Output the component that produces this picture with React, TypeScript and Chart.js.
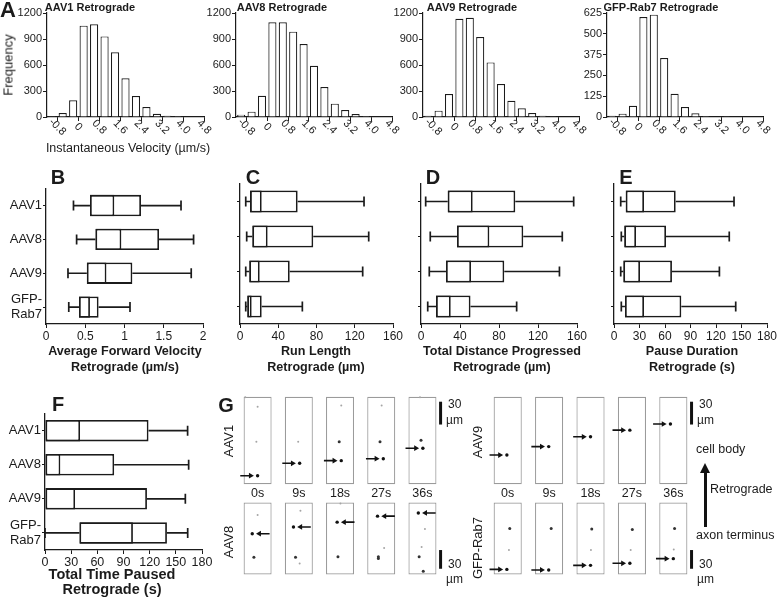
import React, { useEffect, useRef } from "react";
import { Chart, registerables } from "chart.js";

Chart.register(...registerables);

const FONT = "'Liberation Sans', Arial, Helvetica, sans-serif";
const INK = "#1b1b1b";

// ---------------- Panel A: instantaneous velocity histograms ----------------
const velocityBins = [-1.0, -0.6, -0.2, 0.2, 0.6, 1.0, 1.4, 1.8, 2.2, 2.6, 3.0, 3.4, 3.8, 4.2];
const velocityTicks = [-0.8, 0, 0.8, 1.6, 2.4, 3.2, 4.0, 4.8];
const aav1Freq = [10, 46, 192, 1054, 1069, 930, 746, 446, 242, 115, 38, 15, 12, 4];
const aav8Freq = [27, 62, 246, 1092, 1092, 985, 842, 592, 346, 154, 81, 35, 12, 4];
const aav9Freq = [15, 73, 265, 1134, 1146, 923, 630, 381, 188, 100, 46, 15, 10, 8];
const rab7Freq = [8, 20, 68, 601, 615, 355, 140, 60, 22, 6, 2, 1, 0, 0];
const freqTicksAAV = [0, 300, 600, 900, 1200];
const freqTicksRab7 = [0, 125, 250, 375, 500, 625];

// ---------------- Panels B–F: box plots [min, q1, median, q3, max] ----------------
const groupLabels: any[] = ["AAV1", "AAV8", "AAV9", ["GFP-", "Rab7"]];
const fwdVelocity = [
  [0.35, 0.56, 0.87, 1.21, 1.72],
  [0.39, 0.63, 0.96, 1.44, 1.88],
  [0.28, 0.52, 0.77, 1.1, 1.85],
  [0.29, 0.42, 0.56, 0.67, 1.07],
];
const runLength = [
  [6, 10.5, 22.7, 60.3, 129.7],
  [7, 12.9, 28.9, 76.6, 134.6],
  [6, 9.7, 20.6, 52, 128.3],
  [6, 7.6, 12.2, 22.7, 65.2],
];
const totalDistance = [
  [4.8, 27.4, 53, 96.7, 156.6],
  [9.5, 36.9, 70.1, 104.9, 144.9],
  [8.5, 25.6, 51.3, 85.4, 142],
  [6.9, 15.4, 30.5, 50.8, 98.1],
];
const pauseDuration = [
  [7.9, 13.8, 35.3, 72.6, 141.2],
  [8.6, 12.1, 25.9, 61.2, 135.6],
  [7.9, 11, 30.6, 68.2, 124],
  [8.6, 12.9, 35.3, 79.2, 143.2],
];
const timePaused = [
  [0, 0, 40.2, 118.7, 163.5],
  [0, 0, 17.6, 79.3, 164.7],
  [0, 0, 34.5, 116.9, 160.9],
  [0, 39.5, 100.8, 139.8, 163.6],
];
const velocityAxisTicks = [0, 0.5, 1, 1.5, 2];
const distanceTicks = [0, 40, 80, 120, 160];
const secondsTicks = [0, 30, 60, 90, 120, 150, 180];

// ---------------- Panel G: frames (tracked particle [lateral offset, position µm]) ----------------
const frameTimes = ["0s", "9s", "18s", "27s", "36s"];
const frameIndex = [0, 1, 2, 3, 4];
const FRAME_UM = 115;
const SCALE_BAR_UM = 30;
const aav1Tracked = [[0, 11.2], [0.02, 27.5], [0.03, 31], [0.05, 33.6], [0.01, 47.4]];
const aav1Other = [
  [0, 0, 102, 0], [0, -0.03, 56, 0], [0, -0.3, 114.5, 0],
  [1, -0.015, 56, 0],
  [2, 0.03, 103.4, 0], [2, -0.02, 56, 1],
  [3, 0.01, 103.4, 0], [3, -0.03, 56, 1],
  [4, -0.035, 57.7, 1], [4, -0.06, 114.5, 0],
];
const aav8Tracked = [[-0.13, 65.2], [-0.13, 76], [-0.07, 83.7], [-0.09, 93.3], [-0.1, 98.4]];
const aav8Other = [
  [0, 0, 95, 0], [0, -0.09, 27.4, 1],
  [1, 0.04, 101.8, 0], [1, -0.08, 27.4, 1], [1, 0.02, 17.4, 0],
  [2, 0.01, 113.4, 0], [2, -0.05, 28.2, 1],
  [3, -0.07, 28.2, 1], [3, -0.07, 25.5, 1], [3, 0.07, 42.4, 0],
  [4, 0.06, 72.6, 0], [4, -0.02, 43.7, 0], [4, -0.08, 28.2, 1], [4, 0.02, 4.9, 1],
];
const aav9Tracked = [[-0.02, 38.4], [-0.01, 49.5], [0, 62.4], [-0.05, 71.1], [-0.07, 79.2]];
const aav9Other: number[][] = [];
const rab7Tracked = [[-0.02, 8], [-0.01, 7.1], [0, 14.5], [-0.05, 17.8], [0, 25.2]];
const rab7Other = [
  [0, 0.05, 73.4, 1], [0, 0.03, 39, 0],
  [1, 0.05, 73.4, 1],
  [2, 0.03, 72.8, 1], [2, 0.01, 39, 0],
  [3, 0.01, 72.1, 1], [3, -0.03, 39, 0],
  [4, 0.03, 73.4, 1], [4, 0.01, 40, 0],
];

// ---------------- helpers ----------------
const baseOptions = () => ({
  responsive: false,
  animation: false as const,
  devicePixelRatio: 1,
  events: [] as any[],
  plugins: { legend: { display: false }, tooltip: { enabled: false }, title: { display: false } },
});

const fixedTicks = (values: number[]) => (s: any) => {
  s.ticks = values.map((v) => ({ value: v }));
};

const rotatedVelocityLabels = {
  id: "rotatedVelocityLabels",
  afterDraw(chart: any) {
    const s = chart.scales.x;
    const ctx = chart.ctx;
    ctx.save();
    ctx.font = `11px ${FONT}`;
    ctx.fillStyle = INK;
    ctx.textAlign = "center";
    ctx.textBaseline = "middle";
    velocityTicks.forEach((v) => {
      const x = s.getPixelForValue(v);
      ctx.save();
      ctx.translate(x, s.top + 10);
      ctx.rotate(Math.PI / 4);
      ctx.fillText(v === 0 ? "0" : v.toFixed(1), 0, 0);
      ctx.restore();
    });
    ctx.restore();
  },
};

function histConfig(freq: number[], yTicks: number[]) {
  return {
    type: "bar",
    data: {
      datasets: [
        {
          data: velocityBins.map((c, i) => ({ x: c, y: freq[i] })),
          backgroundColor: "#ffffff",
          borderColor: INK,
          borderWidth: 1.2,
          barPercentage: 0.78,
          categoryPercentage: 1,
        },
      ],
    },
    options: {
      ...baseOptions(),
      layout: { padding: { top: 10, right: 14, left: 0, bottom: 0 } },
      scales: {
        x: {
          type: "linear",
          min: -1.2,
          max: 4.8,
          offset: false,
          afterBuildTicks: fixedTicks(velocityTicks),
          ticks: { display: false },
          grid: { offset: false, drawOnChartArea: false, drawTicks: true, tickLength: 4, color: INK, lineWidth: 1 },
          border: { color: INK, width: 1.2 },
          afterFit: (s: any) => { s.height = 32; },
        },
        y: {
          type: "linear",
          min: 0,
          max: yTicks[yTicks.length - 1],
          afterBuildTicks: fixedTicks(yTicks),
          ticks: { font: { family: FONT, size: 11 }, color: INK, padding: 1, autoSkip: false, callback: (v: any) => String(v) },
          grid: { drawOnChartArea: false, tickLength: 4, color: INK, lineWidth: 1 },
          border: { color: INK, width: 1.2 },
          afterFit: (s: any) => { s.width = 42; },
        },
      },
    },
    plugins: [rotatedVelocityLabels],
  };
}

function whiskerPlugin(stats: number[][]) {
  return {
    id: "whiskers",
    afterDatasetsDraw(chart: any) {
      const { ctx } = chart;
      const x = chart.scales.x;
      const y = chart.scales.y;
      ctx.save();
      ctx.strokeStyle = INK;
      ctx.lineWidth = 1.7;
      stats.forEach((s, i) => {
        const yc = y.getPixelForValue(i);
        const [mn, q1, , q3, mx] = s;
        ctx.beginPath();
        if (mn < q1) {
          ctx.moveTo(x.getPixelForValue(mn), yc);
          ctx.lineTo(x.getPixelForValue(q1), yc);
          ctx.moveTo(x.getPixelForValue(mn), yc - 5);
          ctx.lineTo(x.getPixelForValue(mn), yc + 5);
        }
        ctx.moveTo(x.getPixelForValue(q3), yc);
        ctx.lineTo(x.getPixelForValue(mx), yc);
        ctx.moveTo(x.getPixelForValue(mx), yc - 5);
        ctx.lineTo(x.getPixelForValue(mx), yc + 5);
        ctx.stroke();
      });
      ctx.restore();
    },
  };
}

function boxConfig(stats: number[][], xTicks: number[], showLabels: boolean, yWidth: number, fontSize: number) {
  const boxStyle = {
    backgroundColor: "#ffffff",
    borderColor: INK,
    borderWidth: 1.8,
    borderSkipped: false,
    barPercentage: 0.63,
    categoryPercentage: 1,
    grouped: false,
  };
  return {
    type: "bar",
    data: {
      labels: groupLabels,
      datasets: [
        { ...boxStyle, data: stats.map((s) => [s[1], s[3]]), order: 2 },
        { ...boxStyle, data: stats.map((s) => [s[1], s[2]]), order: 1 },
      ],
    },
    options: {
      ...baseOptions(),
      indexAxis: "y",
      layout: { padding: { top: 12, right: 16, left: 0, bottom: 0 } },
      scales: {
        x: {
          type: "linear",
          min: xTicks[0],
          max: xTicks[xTicks.length - 1],
          afterBuildTicks: fixedTicks(xTicks),
          ticks: { font: { family: FONT, size: fontSize }, color: INK, padding: 1, maxRotation: 0, autoSkip: false, callback: (v: any) => String(v) },
          grid: { drawOnChartArea: false, tickLength: 4, color: INK, lineWidth: 1 },
          border: { color: INK, width: 1.3 },
          afterFit: (s: any) => { s.height = 24; },
        },
        y: {
          type: "category",
          offset: true,
          ticks: { display: showLabels, autoSkip: false, font: { family: FONT, size: 13 }, color: INK, padding: 1 },
          grid: { offset: false, drawOnChartArea: false, tickLength: 3, color: INK, lineWidth: 1 },
          border: { color: INK, width: 1.3 },
          afterFit: (s: any) => { s.width = yWidth; },
        },
      },
    },
    plugins: [whiskerPlugin(stats)],
  };
}

function gConfig(tracked: number[][], others: number[][], dir: number, showTimes: boolean, barBase: number, pxPerFrame: number) {
  const u = (px: number) => px / pxPerFrame;
  const GAP = 4, LEN = 14, HEAD = 3.3;
  const shafts: any[] = [];
  const heads: any[] = [];
  tracked.forEach(([dx, um], i) => {
    const x = frameIndex[i] + dx;
    const tip = x - dir * u(GAP);
    const headC = tip - dir * u(HEAD);
    const tail = x - dir * u(GAP + LEN);
    shafts.push({ x: tail, y: um }, { x: headC, y: um }, { x: headC, y: null });
    heads.push({ x: headC, y: um });
  });
  const dots = [
    ...tracked.map(([dx, um], i) => ({ x: frameIndex[i] + dx, y: um, r: 1.7, c: "#111" })),
    ...others.map(([f, dx, um, dark]) => ({ x: f + dx, y: um, r: dark ? 1.5 : 1.0, c: dark ? "#333" : "#a5a5a5" })),
  ];
  return {
    type: "bar",
    data: {
      datasets: [
        {
          type: "bar",
          data: frameIndex.map((i) => ({ x: i, y: [0, FRAME_UM] })),
          backgroundColor: "#ffffff",
          borderColor: "#9b9b9b",
          borderWidth: 1.2,
          borderSkipped: false,
          barPercentage: 0.68,
          categoryPercentage: 1,
          order: 10,
        },
        {
          type: "scatter",
          data: dots.map((d) => ({ x: d.x, y: d.y })),
          pointRadius: dots.map((d) => d.r),
          pointBackgroundColor: dots.map((d) => d.c),
          pointBorderWidth: 0,
          order: 1,
        },
        {
          type: "line",
          data: shafts,
          borderColor: "#111",
          borderWidth: 1.6,
          pointRadius: 0,
          spanGaps: false,
          order: 2,
        },
        {
          type: "scatter",
          data: heads,
          pointStyle: "triangle",
          rotation: dir > 0 ? 90 : 270,
          pointRadius: HEAD,
          pointBackgroundColor: "#111",
          pointBorderWidth: 0,
          order: 1,
        },
        {
          type: "line",
          data: [{ x: 4.44, y: barBase }, { x: 4.44, y: barBase + SCALE_BAR_UM }],
          borderColor: "#111",
          borderWidth: 3,
          borderCapStyle: "butt",
          pointRadius: 0,
          order: 1,
        },
      ],
    },
    options: {
      ...baseOptions(),
      layout: { padding: { top: 2, right: 0, left: 0, bottom: showTimes ? 0 : 2 } },
      scales: {
        x: {
          type: "linear",
          min: -0.5,
          max: 4.62,
          offset: false,
          display: showTimes,
          afterBuildTicks: fixedTicks(frameIndex),
          ticks: { font: { family: FONT, size: 12.5 }, color: INK, padding: 1, maxRotation: 0, autoSkip: false, callback: (v: any) => frameTimes[v] },
          grid: { display: false, drawTicks: false, offset: false },
          border: { display: false },
          afterFit: (s: any) => { s.height = 16; },
        },
        y: { type: "linear", display: false, min: -1, max: FRAME_UM + 1 },
      },
    },
  };
}

function ChartBox({ left, top, width, height, build }: any) {
  const ref = useRef<HTMLCanvasElement>(null);
  useEffect(() => {
    const chart = new Chart(ref.current as HTMLCanvasElement, build());
    return () => chart.destroy();
  }, []);
  const w = Math.round(width);
  const h = Math.round(height);
  return (
    <canvas
      ref={ref}
      width={w}
      height={h}
      style={{ position: "absolute", left: Math.round(left), top: Math.round(top), width: w, height: h }}
    />
  );
}

function Label({ x, y, size, bold, rotate, align = "center", children }: any) {
  const tx = align === "center" ? "-50%" : align === "left" ? "0" : "-100%";
  return (
    <div
      style={{
        position: "absolute",
        left: x,
        top: y,
        transform: `translate(${tx}, -50%)${rotate ? ` rotate(${rotate}deg)` : ""}`,
        fontSize: size,
        fontWeight: bold ? 700 : 400,
        whiteSpace: "nowrap",
        lineHeight: 1,
        fontFamily: FONT,
        color: INK,
      }}
    >
      {children}
    </div>
  );
}

export default function App() {
  return (
    <div
      style={{
        position: "absolute",
        left: 0,
        top: 0,
        width: 777,
        height: 597,
        overflow: "hidden",
        background: "#fff",
        fontFamily: FONT,
        color: INK,
      }}
    >
      {/* Panel A */}
      <ChartBox left={5} top={3} width={213} height={146} build={() => histConfig(aav1Freq, freqTicksAAV)} />
      <ChartBox left={194} top={3} width={212} height={146} build={() => histConfig(aav8Freq, freqTicksAAV)} />
      <ChartBox left={381} top={3} width={212} height={146} build={() => histConfig(aav9Freq, freqTicksAAV)} />
      <ChartBox left={565} top={3} width={212} height={146} build={() => histConfig(rab7Freq, freqTicksRab7)} />
      <Label x={8} y={10} size={22} bold>A</Label>
      <Label x={90} y={6.5} size={11} bold>AAV1 Retrograde</Label>
      <Label x={282} y={6.5} size={11} bold>AAV8 Retrograde</Label>
      <Label x={472} y={6.5} size={11} bold>AAV9 Retrograde</Label>
      <Label x={661} y={6.5} size={11} bold>GFP-Rab7 Retrograde</Label>
      <Label x={8} y={65} size={13} rotate={-90}>Frequency</Label>
      <Label x={128} y={148} size={12.5}>Instantaneous Velocity (µm/s)</Label>

      {/* Panels B–E */}
      <ChartBox left={0} top={172} width={219} height={176} build={() => boxConfig(fwdVelocity, velocityAxisTicks, true, 46, 12)} />
      <ChartBox left={228} top={172} width={181} height={176} build={() => boxConfig(runLength, distanceTicks, false, 12, 12)} />
      <ChartBox left={409} top={172} width={184} height={176} build={() => boxConfig(totalDistance, distanceTicks, false, 12, 12)} />
      <ChartBox left={602} top={172} width={181} height={176} build={() => boxConfig(pauseDuration, secondsTicks, false, 12, 12)} />
      <Label x={58} y={177} size={20} bold>B</Label>
      <Label x={253} y={177} size={20} bold>C</Label>
      <Label x={433} y={177} size={20} bold>D</Label>
      <Label x={626} y={177} size={20} bold>E</Label>
      <Label x={125} y={351} size={12.6} bold>Average Forward Velocity</Label>
      <Label x={125} y={367} size={12.6} bold>Retrograde (µm/s)</Label>
      <Label x={316} y={351} size={12.6} bold>Run Length</Label>
      <Label x={316} y={367} size={12.6} bold>Retrograde (µm)</Label>
      <Label x={502} y={351} size={12.6} bold>Total Distance Progressed</Label>
      <Label x={502} y={367} size={12.6} bold>Retrograde (µm)</Label>
      <Label x={692} y={351} size={12.6} bold>Pause Duration</Label>
      <Label x={692} y={367} size={12.6} bold>Retrograde (s)</Label>

      {/* Panel F */}
      <ChartBox left={0} top={397} width={218} height={177} build={() => boxConfig(timePaused, secondsTicks, true, 45, 12.5)} />
      <Label x={58} y={404} size={20} bold>F</Label>
      <Label x={112} y={574} size={14.5} bold>Total Time Paused</Label>
      <Label x={112} y={589} size={14.5} bold>Retrograde (s)</Label>

      {/* Panel G */}
      <ChartBox left={233} top={392} width={219} height={109} build={() => gConfig(aav1Tracked, aav1Other, 1, true, 78.5, 219 / 5.12)} />
      <ChartBox left={233} top={498} width={219} height={95} build={() => gConfig(aav8Tracked, aav8Other, -1, false, 9, 219 / 5.12)} />
      <ChartBox left={483} top={392} width={220} height={109} build={() => gConfig(aav9Tracked, aav9Other, 1, true, 78.5, 220 / 5.12)} />
      <ChartBox left={483} top={498} width={220} height={95} build={() => gConfig(rab7Tracked, rab7Other, 1, false, 9, 220 / 5.12)} />
      <Label x={226} y={405} size={20} bold>G</Label>
      <Label x={228} y={441} size={13} rotate={-90}>AAV1</Label>
      <Label x={228} y={542} size={13} rotate={-90}>AAV8</Label>
      <Label x={477} y={442} size={13} rotate={-90}>AAV9</Label>
      <Label x={477} y={548} size={13} rotate={-90}>GFP-Rab7</Label>
      <Label x={448} y={404} size={12} align="left">30</Label>
      <Label x={446} y={420} size={12} align="left">µm</Label>
      <Label x={448} y={564} size={12} align="left">30</Label>
      <Label x={446} y={579} size={12} align="left">µm</Label>
      <Label x={699} y={404} size={12} align="left">30</Label>
      <Label x={697} y={420} size={12} align="left">µm</Label>
      <Label x={699} y={564} size={12} align="left">30</Label>
      <Label x={697} y={579} size={12} align="left">µm</Label>
      <Label x={696} y={449} size={12.5} align="left">cell body</Label>
      <Label x={710} y={489} size={12.5} align="left">Retrograde</Label>
      <Label x={696} y={535} size={12.5} align="left">axon terminus</Label>
      <div style={{ position: "absolute", left: 703.5, top: 471, width: 3, height: 56, background: "#111" }} />
      <div
        style={{
          position: "absolute",
          left: 699.5,
          top: 463,
          width: 0,
          height: 0,
          borderLeft: "5.5px solid transparent",
          borderRight: "5.5px solid transparent",
          borderBottom: "10px solid #111",
        }}
      />
    </div>
  );
}
